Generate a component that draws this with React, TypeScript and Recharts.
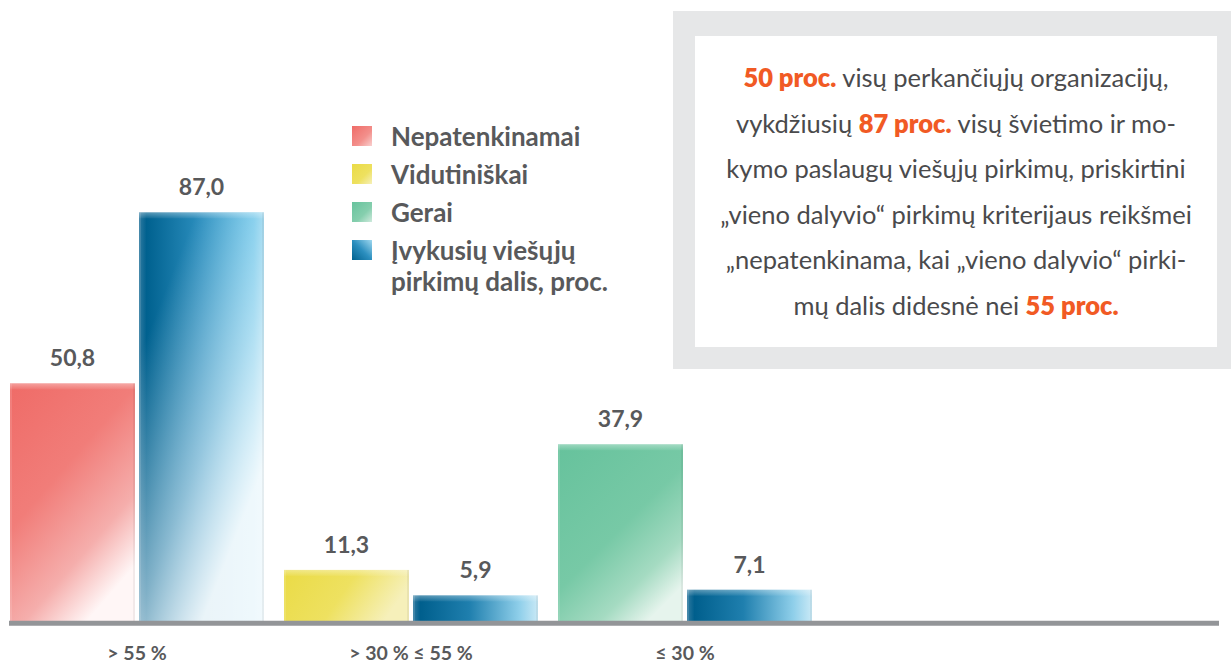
import React from 'react';
import { BarChart, Bar, XAxis, YAxis, Cell, LabelList, Legend } from 'recharts';

const categories = ['> 55 %', '> 30 % ≤ 55 %', '≤ 30 %'];
const ratingValues = [50.8, 11.3, 37.9];
const shareValues = [87.0, 5.9, 7.1];
const legendLabels = ['Nepatenkinamai', 'Vidutiniškai', 'Gerai', 'Įvykusių viešųjų\npirkimų dalis, proc.'];

const ratingFills = ['url(#gRed)', 'url(#gYellow)', 'url(#gGreen)'];
const shareFills = ['url(#gBlueTall)', 'url(#gBlueShort)', 'url(#gBlueShort)'];
const legendSwatches = [
  'linear-gradient(135deg, #ef6b67 0%, #f3908c 60%, #f9d0cf 100%)',
  'linear-gradient(135deg, #eadb46 0%, #eee160 60%, #f6f0ba 100%)',
  'linear-gradient(135deg, #67c39d 0%, #86cfae 60%, #cfeadd 100%)',
  'linear-gradient(45deg, #00618f 0%, #2c8fbf 50%, #9fd8f0 100%)',
];

const data = categories.map((c, i) => ({ category: c, rating: ratingValues[i], share: shareValues[i] }));

const TEXT = '#58595b';
const FONT = 'Lato, "Open Sans", sans-serif';

const fmt = (v: any) => Number(v).toFixed(1).replace('.', ',');

const BarShape = (props: any) => {
  const { x, y, width, height, fill, fade } = props;
  if (!height || height <= 0) return null;
  const fadeOpacity = fade ? Math.max(0, Math.min(1, (height - 60) / 320)) : 0;
  return (
    <g>
      <rect x={x} y={y} width={width} height={height} fill={fill} />
      {fadeOpacity > 0 && <rect x={x} y={y} width={width} height={height} fill="url(#gFade)" opacity={fadeOpacity} />}
      <rect x={x} y={y} width={width} height={Math.min(6, height)} fill="url(#gTop)" />
      <rect x={x} y={y} width={2} height={height} fill="#ffffff" opacity={0.12} />
      <rect x={x + width - 2} y={y} width={2} height={height} fill="#000000" opacity={0.05} />
    </g>
  );
};

const LegendContent = () => (
  <div style={{ fontFamily: FONT, fontWeight: 700, fontSize: 26, color: TEXT, lineHeight: '31px' }}>
    {legendLabels.map((l, i) => (
      <div key={i} style={{ display: 'flex', alignItems: 'flex-start', marginBottom: 7 }}>
        <div style={{ width: 20, height: 20, marginTop: 5, marginRight: 19, background: legendSwatches[i], flex: 'none' }} />
        <div style={{ whiteSpace: 'pre-line' }}>{l}</div>
      </div>
    ))}
  </div>
);

const orange = { color: '#f15a24', fontWeight: 800 } as React.CSSProperties;

export default function App() {
  return (
    <div style={{ position: 'absolute', left: 0, top: 0, width: 1231, height: 664, background: '#fff', overflow: 'hidden' }}>
      <div style={{ position: 'absolute', left: 673, top: 11, width: 600, height: 358, background: '#e6e7e8' }} />
      <div
        style={{
          position: 'absolute', left: 695, top: 36, width: 522, height: 311, background: '#fff',
          boxSizing: 'border-box', paddingTop: 19, textAlign: 'center', fontFamily: FONT, fontSize: 25.5,
          lineHeight: '45.5px', color: '#4a4a4c', whiteSpace: 'nowrap',
        }}
      >
        <div><span style={orange}>50 proc.</span> visų perkančiųjų organizacijų,</div>
        <div>vykdžiusių <span style={orange}>87 proc.</span> visų švietimo ir mo-</div>
        <div>kymo paslaugų viešųjų pirkimų, priskirtini</div>
        <div>„vieno dalyvio“ pirkimų kriterijaus reikšmei</div>
        <div>„nepatenkinama, kai „vieno dalyvio“ pirki-</div>
        <div>mų dalis didesnė nei <span style={orange}>55 proc.</span></div>
      </div>
      <div style={{ position: 'absolute', left: 0, top: 0 }}>
        <BarChart width={1231} height={664} data={data} margin={{ top: 151, right: 12, bottom: 0, left: 9 }} barSize={125} barGap={4}>
          <defs>
            <linearGradient id="gRed" x1="0" y1="0" x2="0.6" y2="1">
              <stop offset="0" stopColor="#ef6b67" />
              <stop offset="0.45" stopColor="#f17d79" />
              <stop offset="0.78" stopColor="#f5aeac" />
              <stop offset="1" stopColor="#fff6f6" />
            </linearGradient>
            <linearGradient id="gGreen" x1="0" y1="0" x2="0.7" y2="1">
              <stop offset="0" stopColor="#66c29c" />
              <stop offset="0.55" stopColor="#77c9a6" />
              <stop offset="0.82" stopColor="#a5dbc2" />
              <stop offset="1" stopColor="#e6f4ed" />
            </linearGradient>
            <linearGradient id="gYellow" x1="0" y1="0" x2="1" y2="0.3">
              <stop offset="0" stopColor="#eadb46" />
              <stop offset="0.55" stopColor="#eee160" />
              <stop offset="1" stopColor="#f6f0ba" />
            </linearGradient>
            <linearGradient id="gBlueTall" x1="0" y1="0" x2="1" y2="0">
              <stop offset="0" stopColor="#2f7aa0" />
              <stop offset="0.06" stopColor="#00618f" />
              <stop offset="0.5" stopColor="#2c8fbf" />
              <stop offset="0.92" stopColor="#58bde6" />
              <stop offset="1" stopColor="#7ccbeb" />
            </linearGradient>
            <linearGradient id="gBlueShort" x1="0" y1="0" x2="1" y2="0">
              <stop offset="0" stopColor="#2f7aa0" />
              <stop offset="0.06" stopColor="#005f8d" />
              <stop offset="0.45" stopColor="#1f7fae" />
              <stop offset="0.85" stopColor="#8fcfea" />
              <stop offset="1" stopColor="#c9e9f6" />
            </linearGradient>
            <linearGradient id="gFade" x1="0" y1="0.35" x2="0.5" y2="1">
              <stop offset="0" stopColor="#ffffff" stopOpacity="0" />
              <stop offset="0.6" stopColor="#ffffff" stopOpacity="0.5" />
              <stop offset="1" stopColor="#ffffff" stopOpacity="0.9" />
            </linearGradient>
            <linearGradient id="gTop" x1="0" y1="0" x2="0" y2="1">
              <stop offset="0" stopColor="#ffffff" stopOpacity="0.35" />
              <stop offset="1" stopColor="#ffffff" stopOpacity="0.05" />
            </linearGradient>
          </defs>
          <YAxis hide domain={[0, 100]} />
          <Bar dataKey="rating" isAnimationActive={false} shape={(p: any) => <BarShape {...p} />}>
            {data.map((_, i) => <Cell key={i} fill={ratingFills[i]} />)}
            <LabelList dataKey="rating" position="top" offset={17} formatter={fmt}
              style={{ fill: TEXT, fontSize: 23, fontWeight: 700, fontFamily: FONT }} />
          </Bar>
          <Bar dataKey="share" isAnimationActive={false} shape={(p: any) => <BarShape {...p} fade />}>
            {data.map((_, i) => <Cell key={i} fill={shareFills[i]} />)}
            <LabelList dataKey="share" position="top" offset={17} formatter={fmt}
              style={{ fill: TEXT, fontSize: 23, fontWeight: 700, fontFamily: FONT }} />
          </Bar>
          <XAxis
            dataKey="category"
            height={40.7}
            padding={{ left: -9, right: 397 }}
            tickLine={false}
            tickSize={0}
            tickMargin={23}
            interval={0}
            axisLine={{ stroke: '#939598', strokeWidth: 5 }}
            tick={{ fill: TEXT, fontSize: 19.5, fontWeight: 700, fontFamily: FONT }}
          />
          <Legend
            layout="horizontal"
            verticalAlign="middle"
            align="center"
            content={() => <LegendContent />}
            wrapperStyle={{ position: 'absolute', left: 352, top: 121, width: 280, height: 'auto' }}
          />
        </BarChart>
      </div>
    </div>
  );
}
